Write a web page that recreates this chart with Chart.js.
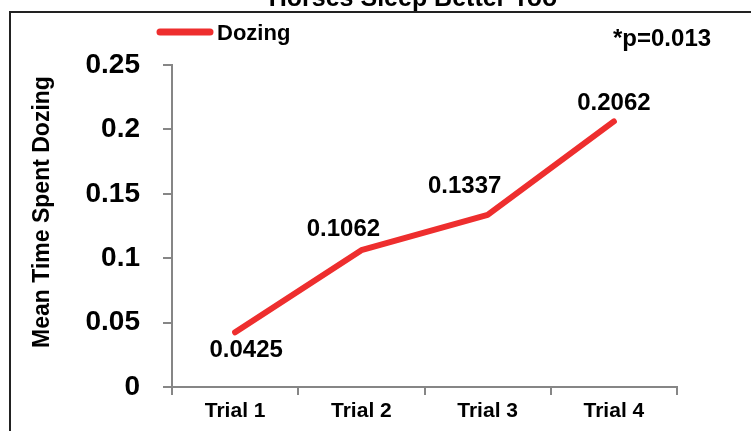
<!DOCTYPE html>
<html>
<head>
<meta charset="utf-8">
<script src="https://cdn.jsdelivr.net/npm/chart.js@4"></script>
<style>
  html, body { margin: 0; padding: 0; background: #fff; }
  canvas { display: block; }
</style>
</head>
<body>
<canvas id="chart" width="751" height="431"></canvas>
<script>
const trials = ["Trial 1", "Trial 2", "Trial 3", "Trial 4"];
const dozing = [0.0425, 0.1062, 0.1337, 0.2062];
const seriesName = "Dozing";
const chartTitle = "Horses Sleep Better Too";
const yTitle = "Mean Time Spent Dozing";
const pNote = "*p=0.013";

const FONT = "'Liberation Sans', Arial, sans-serif";
const RED = "#EE2E2E";
const AXIS = "#868686";

// where each value label sits relative to its point (Excel placed them by hand)
const labelOffsets = [[11, 18], [-18, -21], [-23, -28], [0, -18]];

const decorations = {
    id: "decorations",
    beforeDraw(chart) {
        const ctx = chart.ctx;
        ctx.save();
        // outer frame, cropped at right/bottom
        ctx.strokeStyle = "#222";
        ctx.lineWidth = 2;
        ctx.strokeRect(10, 12, 800, 500);
        // title, mostly cut off at the top
        ctx.fillStyle = "#000";
        ctx.font = "bold 25px " + FONT;
        ctx.textAlign = "center";
        ctx.textBaseline = "alphabetic";
        ctx.fillText(chartTitle, 413, 6);
        ctx.restore();
    },
    afterDraw(chart) {
        const ctx = chart.ctx;
        const ds = chart.data.datasets[0];
        ctx.save();
        // legend
        ctx.strokeStyle = ds.borderColor;
        ctx.lineWidth = 7;
        ctx.lineCap = "round";
        ctx.beginPath();
        ctx.moveTo(160, 32);
        ctx.lineTo(210, 32);
        ctx.stroke();
        ctx.fillStyle = "#000";
        ctx.font = "bold 22px " + FONT;
        ctx.textAlign = "left";
        ctx.textBaseline = "middle";
        ctx.fillText(ds.label, 217, 34);
        // p value note
        ctx.font = "bold 24px " + FONT;
        ctx.fillText(pNote, 613, 39);
        // y axis title
        ctx.save();
        ctx.translate(43, 212);
        ctx.rotate(-Math.PI / 2);
        ctx.textAlign = "center";
        ctx.font = "bold 23px " + FONT;
        ctx.fillText(yTitle, 0, 0);
        ctx.restore();
        // value labels
        const meta = chart.getDatasetMeta(0);
        ctx.font = "bold 24px " + FONT;
        ctx.textAlign = "center";
        meta.data.forEach((pt, i) => {
            const [dx, dy] = labelOffsets[i];
            ctx.fillText(String(ds.data[i]), pt.x + dx, pt.y + dy);
        });
        ctx.restore();
    }
};

new Chart(document.getElementById("chart"), {
    type: "line",
    data: {
        labels: trials,
        datasets: [{
            label: seriesName,
            data: dozing,
            borderColor: RED,
            backgroundColor: RED,
            borderWidth: 6,
            borderCapStyle: "round",
            borderJoinStyle: "round",
            pointRadius: 0,
            tension: 0
        }]
    },
    options: {
        responsive: false,
        animation: false,
        layout: { padding: { top: 65, right: 74, left: 0, bottom: 0 } },
        plugins: {
            legend: { display: false },
            tooltip: { enabled: false }
        },
        scales: {
            x: {
                offset: true,
                afterFit(s) { s.height = 44; },
                grid: { offset: true, drawOnChartArea: false, tickLength: 8, color: AXIS, lineWidth: 2 },
                border: { color: AXIS, width: 2 },
                ticks: { color: "#000", font: { family: FONT, size: 21, weight: "bold" }, padding: 4, maxRotation: 0 }
            },
            y: {
                min: 0,
                max: 0.25,
                afterFit(s) { s.width = 172; },
                grid: { drawOnChartArea: false, tickLength: 9, color: AXIS, lineWidth: 2 },
                border: { color: AXIS, width: 2 },
                ticks: {
                    stepSize: 0.05,
                    color: "#000",
                    font: { family: FONT, size: 28, weight: "bold" },
                    padding: 23,
                    callback: v => String(+v.toFixed(2))
                }
            }
        }
    },
    plugins: [decorations]
});
</script>
</body>
</html>
